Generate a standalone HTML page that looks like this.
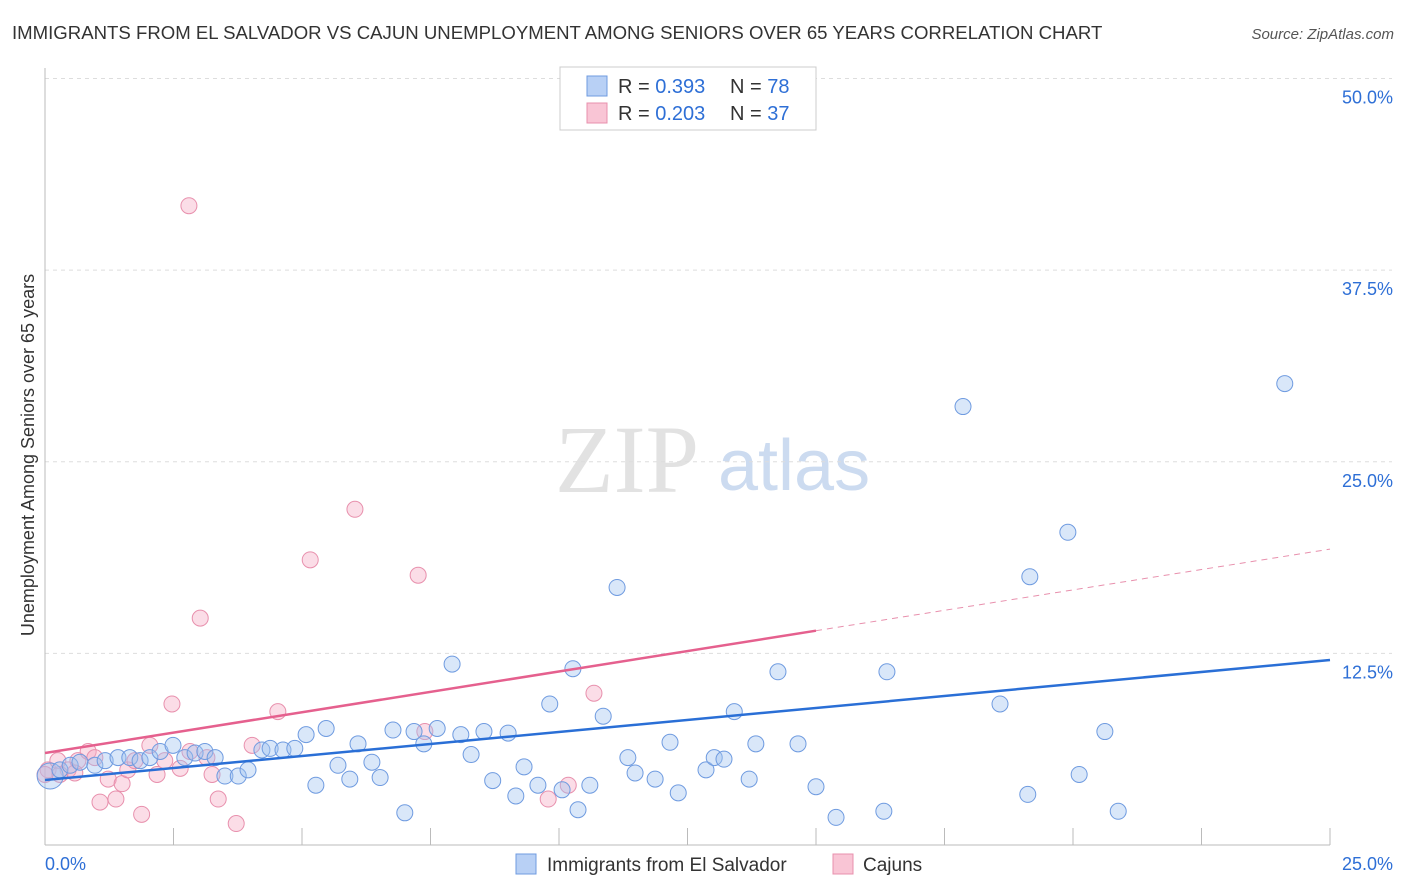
<!DOCTYPE html>
<html><head><meta charset="utf-8"><style>
body{margin:0;background:#fff;font-family:"Liberation Sans",sans-serif;}
svg{display:block}
</style></head><body>
<svg id="chart" width="1406" height="892">
<text x="12" y="39" font-size="18.6" fill="#333">IMMIGRANTS FROM EL SALVADOR VS CAJUN UNEMPLOYMENT AMONG SENIORS OVER 65 YEARS CORRELATION CHART</text>
<text x="1394" y="39" font-size="15" fill="#555" font-style="italic" text-anchor="end">Source: ZipAtlas.com</text>
<text x="555" y="492" font-size="96" fill="#e2e2e2" font-family="Liberation Serif">ZIP</text>
<text x="718" y="490" font-size="72" fill="#ccdbf0">atlas</text>
<text transform="translate(34,455) rotate(-90)" font-size="18" fill="#333" text-anchor="middle">Unemployment Among Seniors over 65 years</text>
<g id="grid"></g><g id="marks"></g>
<g>
<rect x="560" y="67" width="256" height="63" fill="#fff" stroke="#ccc"/>
<rect x="587" y="76" width="20" height="20" fill="#b8d0f5" stroke="#6f9be0"/>
<rect x="587" y="103" width="20" height="20" fill="#f9c5d5" stroke="#e890ad"/>
<text x="618" y="93" font-size="20" fill="#333">R = <tspan fill="#2e6fd6">0.393</tspan></text>
<text x="730" y="93" font-size="20" fill="#333">N = <tspan fill="#2e6fd6">78</tspan></text>
<text x="618" y="120" font-size="20" fill="#333">R = <tspan fill="#2e6fd6">0.203</tspan></text>
<text x="730" y="120" font-size="20" fill="#333">N = <tspan fill="#2e6fd6">37</tspan></text>
</g>
<g>
<rect x="516" y="854" width="20" height="20" fill="#b8d0f5" stroke="#6f9be0"/>
<text x="547" y="871" font-size="19" fill="#333">Immigrants from El Salvador</text>
<rect x="833" y="854" width="20" height="20" fill="#f9c5d5" stroke="#e890ad"/>
<text x="863" y="871" font-size="19" fill="#333">Cajuns</text>
</g>
</svg>
<script>
const yTicks=[12.5,25,37.5,50];
const yTickLabels=["12.5%","25.0%","37.5%","50.0%"];
const xTickVals=[0,2.5,5,7.5,10,12.5,15,17.5,20,22.5,25];
const blueX=[0.1,0.29,0.49,0.68,0.97,1.17,1.42,1.65,1.85,2.04,2.24,2.49,2.72,2.92,3.11,3.31,3.5,3.76,3.95,4.22,4.38,4.63,4.86,5.08,5.27,5.47,5.7,5.93,6.09,6.36,6.52,6.77,7.0,7.18,7.37,7.63,7.92,8.09,8.29,8.54,8.71,9.01,9.16,9.32,9.59,9.82,10.06,10.27,10.37,10.6,10.86,11.13,11.34,11.48,11.87,12.16,12.32,12.86,13.02,13.21,13.41,13.70,13.83,14.26,14.65,15.0,15.39,16.32,16.38,17.86,18.58,19.12,19.16,19.9,20.12,20.62,20.88,24.12];
const blueY=[4.5,4.9,5.2,5.4,5.2,5.5,5.7,5.7,5.5,5.7,6.1,6.5,5.7,6.0,6.1,5.7,4.5,4.5,4.9,6.2,6.3,6.2,6.3,7.2,3.9,7.6,5.2,4.3,6.6,5.4,4.4,7.5,2.1,7.4,6.6,7.6,11.8,7.2,5.9,7.4,4.2,7.3,3.2,5.1,3.9,9.2,3.6,11.5,2.3,3.9,8.4,16.8,5.7,4.7,4.3,6.7,3.4,4.9,5.7,5.6,8.7,4.3,6.6,11.3,6.6,3.8,1.8,2.2,11.3,28.6,9.2,3.3,17.5,20.4,4.6,7.4,2.2,30.1];
const pinkX=[0.06,0.25,0.45,0.64,0.84,1.07,1.23,1.38,1.5,1.61,1.75,1.88,2.04,2.18,2.33,2.47,2.63,2.82,2.8,3.02,3.15,3.25,3.37,3.72,4.03,4.53,5.16,6.03,7.26,7.39,9.79,10.18,10.68,0.0,0.29,0.58,0.97];
const pinkY=[4.9,5.5,4.9,5.5,6.1,2.8,4.3,3.0,4.0,4.9,5.5,2.0,6.5,4.6,5.5,9.2,5.0,6.1,41.7,14.8,5.7,4.6,3.0,1.4,6.5,8.7,18.6,21.9,17.6,7.4,3.0,3.9,9.9,4.6,4.6,4.7,5.7];
const blueReg=[4.24,12.07];
const pinkReg=[6.0,19.3];const pinkSolidEnd=15;
const X=v=>45+v*51.4, Y=v=>845-v*15.33;
const NS="http://www.w3.org/2000/svg";
const g=document.getElementById('grid'), m=document.getElementById('marks');
function el(t,a,p){const e=document.createElementNS(NS,t);for(const k in a)e.setAttribute(k,a[k]);p.appendChild(e);return e;}
yTicks.forEach((v,i)=>{
 const l=el('line',{x1:45,x2:1392,y1:Y(v),y2:Y(v),stroke:'#ddd','stroke-dasharray':'4,4'},g);
 
 
 const t=el('text',{x:1393,y:Y(v)+25,'font-size':18,fill:'#2e6fd6','text-anchor':'end'},g);t.textContent=yTickLabels[i];
 
 
});
const ax=el('line',{x1:45,x2:45,y1:68,y2:845,stroke:'#bbb'},g);


const bx=el('line',{x1:45,x2:1330,y1:845,y2:845,stroke:'#bbb'},g);


xTickVals.forEach(v=>{const t=el('line',{x1:X(v),x2:X(v),y1:828,y2:845,stroke:'#bbb'},g);
 
 });
[['0.0%',45,'start'],['25.0%',1393,'end']].forEach(a=>{const t=el('text',{x:a[1],y:870,'font-size':18,fill:'#2e6fd6','text-anchor':a[2]},g);t.textContent=a[0];
 
 });
pinkX.forEach((x,i)=>{const c=el('circle',{cx:X(x),cy:Y(pinkY[i]),r:8,fill:'rgba(246,170,195,0.4)',stroke:'#e890ad','stroke-width':1},m);
 
 });
blueX.forEach((x,i)=>{const c=el('circle',{cx:X(x),cy:Y(blueY[i]),r:i==0?13:8,fill:'rgba(160,195,240,0.4)',stroke:'#6f9be0','stroke-width':1},m);
 
 });
const bl=el('line',{x1:X(0),y1:Y(blueReg[0]),x2:X(25),y2:Y(blueReg[1]),stroke:'#2a6fd6','stroke-width':2.5},m);


const pAt=x=>pinkReg[0]+(pinkReg[1]-pinkReg[0])*x/25;
const pl=el('line',{x1:X(0),y1:Y(pAt(0)),x2:X(pinkSolidEnd),y2:Y(pAt(pinkSolidEnd)),stroke:'#e5608e','stroke-width':2.5},m);


const pd=el('line',{x1:X(pinkSolidEnd),y1:Y(pAt(pinkSolidEnd)),x2:X(25),y2:Y(pAt(25)),stroke:'#e890ad','stroke-width':1,'stroke-dasharray':'6,5'},m);


</script>
</body></html>
